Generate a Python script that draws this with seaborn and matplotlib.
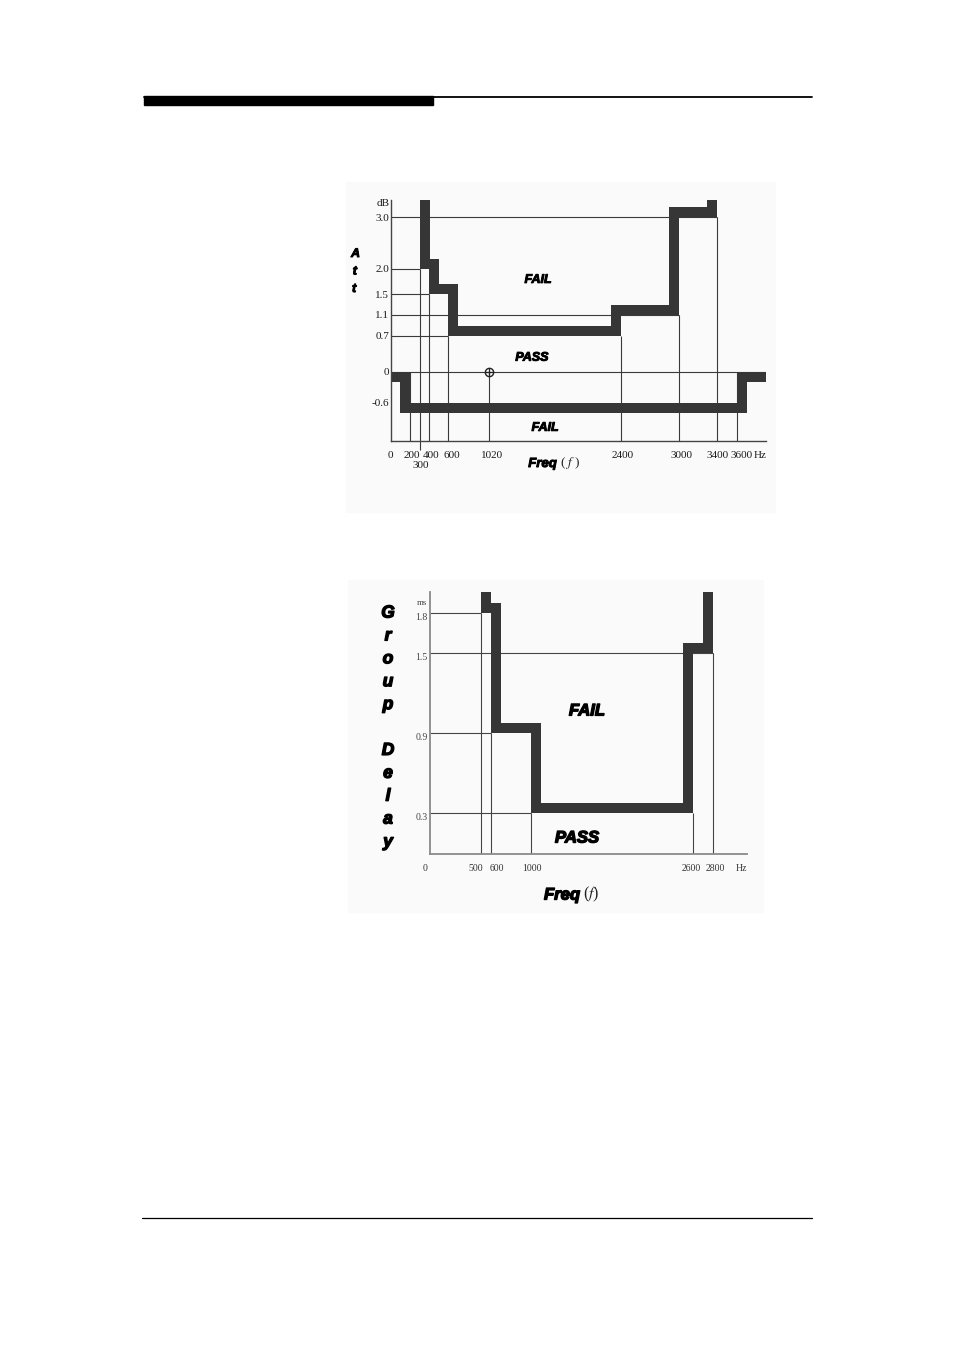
import matplotlib.pyplot as plt
import seaborn as sns
import matplotlib.patheffects as pe
from matplotlib.patches import Polygon, Rectangle
from matplotlib.lines import Line2D

sns.set_theme(style='white')
plt.rcParams['font.family'] = ['Liberation Serif', 'DejaVu Serif']
plt.rcParams['mathtext.fontset'] = 'stix'

# --- 감쇠 마스크 (dB) ---
att_up_freq = [300, 400, 600, 2400, 3000, 3400]
att_up_db = [2.0, 1.5, 0.7, 1.1, 3.0]
att_low_freq = [200, 3600]
att_low_db = [0, -0.6, 0]
att_guide_h = [3.0, 2.0, 1.5, 1.1, 0.7]
att_guide_h_end = [3400, 300, 400, 3000, 600]
att_guide_v = [200, 300, 400, 600, 1020, 2400, 3000, 3400, 3600]
att_guide_v_top = [0, 2.0, 1.5, 0.7, 0, 0.7, 1.1, 3.0, 0]
att_yticks = [3.0, 2.0, 1.5, 1.1, 0.7, 0, -0.6]
att_ylabels = ['3.0', '2.0', '1.5', '1.1', '0.7', '0', '-0.6']
att_xticks = [0, 200, 300, 400, 600, 1020, 2400, 3000, 3400, 3600]
att_ref = [1020, 0]

# --- 군지연 마스크 (ms) ---
gd_freq = [500, 600, 1000, 2600, 2800]
gd_ms = [1.8, 0.9, 0.3, 1.5]
gd_guide_h = [1.8, 1.5, 0.9, 0.3]
gd_guide_h_end = [500, 2800, 600, 1000]
gd_guide_v = [500, 600, 1000, 2600, 2800]
gd_guide_v_top = [1.8, 0.9, 0.3, 0.3, 1.5]
gd_yticks = [1.8, 1.5, 0.9, 0.3]
gd_ylabels = ['1.8', '1.5', '0.9', '0.3']
gd_xticks = [0, 500, 600, 1000, 2600, 2800]

W, H = 954, 1351
PT = 0.72  # px -> pt
MASK = '#363636'
GUIDE = '#3a3a3a'
MASK_W = 20 * PT
SKY = 50

fig = plt.figure(figsize=(W / 100, H / 100), dpi=100)
fig.patch.set_facecolor('white')


def box(x0, y0, x1, y1):
    return [x0 / W, 1 - y1 / H, (x1 - x0) / W, (y1 - y0) / H]


def ftext(x, y, s, **kw):
    fig.text(x / W, 1 - y / H, s, **kw)


def frect(x0, y0, x1, y1, color, z=-1):
    fig.add_artist(Rectangle((x0 / W, 1 - y1 / H), (x1 - x0) / W, (y1 - y0) / H,
                             transform=fig.transFigure, color=color, zorder=z))


def draw_mask(ax, breaks, levels, below=False):
    # 한계선을 굵게 그리고 FAIL 영역으로 잘라 안쪽 절반만 남김
    xs, ys = [-2000], [levels[0]]
    for b, l0, l1 in zip(breaks, levels[:-1], levels[1:]):
        xs += [b, b]
        ys += [l0, l1]
    xs.append(9000)
    ys.append(levels[-1])
    verts = list(zip(xs, ys))
    if below:
        verts += [(9000, -SKY), (-2000, -SKY)]
    clip = Polygon(verts, closed=True, transform=ax.transData, fc='none', ec='none')
    ax.add_patch(clip)
    n = len(ax.lines)
    sns.lineplot(x=xs, y=ys, sort=False, estimator=None, ax=ax, color=MASK,
                 lw=MASK_W, solid_joinstyle='miter', solid_capstyle='butt', zorder=3)
    for ln in ax.lines[n:]:
        ln.set_clip_path(clip)


def style_axes(ax, spine_color, spine_lw):
    ax.set_facecolor('none')
    ax.set_xticks([])
    ax.set_yticks([])
    for s in ['top', 'right']:
        ax.spines[s].set_visible(False)
    for s in ['left', 'bottom']:
        ax.spines[s].set_color(spine_color)
        ax.spines[s].set_linewidth(spine_lw)
        ax.spines[s].set_zorder(4)


def heavy(w):
    return dict(family=['Liberation Sans', 'DejaVu Sans'], weight='bold', style='italic',
                color='black', path_effects=[pe.withStroke(linewidth=w, foreground='black')])


# 페이지 장식
frect(144, 96, 433, 105, 'black', z=1)
fig.add_artist(Line2D([144 / W, 812 / W], [1 - 97 / H] * 2, transform=fig.transFigure,
                      color='black', lw=1.3))
fig.add_artist(Line2D([142 / W, 812 / W], [1 - 1218 / H] * 2, transform=fig.transFigure,
                      color='black', lw=0.9))
frect(346, 182, 775, 512, '#fafafa')
frect(348, 580, 763, 912, '#fafafa')

# ① 감쇠 특성
ax1 = fig.add_axes(box(390.7, 200, 766, 440.7))
style_axes(ax1, '#444444', 1.0)
for lv, end in zip(att_guide_h, att_guide_h_end):
    ax1.hlines(lv, 0, end, color=GUIDE, lw=0.8, zorder=2)
ax1.axhline(0, color=GUIDE, lw=0.8, zorder=2)
for f, top in zip(att_guide_v, att_guide_v_top):
    bottom = -1.53 if f == 300 else -1.34
    ax1.vlines(f, bottom, top, color=GUIDE, lw=0.8, zorder=2, clip_on=False)
draw_mask(ax1, att_up_freq, [SKY] + att_up_db + [SKY])
draw_mask(ax1, att_low_freq, att_low_db, below=True)
ax1.plot(att_ref[0], att_ref[1], marker='o', ms=6, mfc='none', mec='#222', mew=1.0, zorder=5)
ax1.plot(att_ref[0], att_ref[1], marker='+', ms=6, mec='#222', mew=0.9, zorder=5)
ax1.set_xlim(0, 3905)
ax1.set_ylim(-1.34, 3.33)

att_dx = {0: 0, 200: 2, 300: 1, 400: 2, 600: 3, 1020: 3, 2400: 1, 3000: 2, 3400: 0, 3600: 5}
for f in att_xticks:
    dy = -24.3 if f == 300 else -14.3
    ax1.annotate(str(f), xy=(f, 0), xycoords=('data', 'axes fraction'),
                 xytext=(att_dx[f] * PT, dy * PT), textcoords='offset points',
                 ha='center', va='center', fontsize=8, color='#1a1a1a')
ax1.annotate('Hz', xy=(1, 0), xycoords='axes fraction', xytext=(1 * PT, -14.3 * PT),
             textcoords='offset points', ha='right', va='center', fontsize=8, color='#1a1a1a')
for v, lbl in zip(att_yticks, att_ylabels):
    ax1.annotate(lbl, xy=(0, v), xycoords=('axes fraction', 'data'),
                 xytext=(-1.5 * PT, -1 * PT), textcoords='offset points',
                 ha='right', va='center', fontsize=8, color='#1a1a1a')
ax1.annotate('dB', xy=(0, 1), xycoords='axes fraction', xytext=(-1.5 * PT, -3.5 * PT),
             textcoords='offset points', ha='right', va='center', fontsize=8, color='#1a1a1a')

ax1.text(1533, 1.78, 'FAIL', ha='center', va='center', fontsize=9, **heavy(0.7))
ax1.text(1470, 0.27, 'PASS', ha='center', va='center', fontsize=9, **heavy(0.7))
ax1.text(1606, -1.09, 'FAIL', ha='center', va='center', fontsize=9, **heavy(0.7))
ftext(557, 464, 'Freq', ha='right', va='center', fontsize=9.5, **heavy(0.7))
ftext(560, 463, '( $f$ )', ha='left', va='center', fontsize=9.5, color='#222')
for i, ch in enumerate('Att'):
    ftext(355.5 - 0.7 * i, 254 + 17.5 * i, ch, ha='center', va='center', fontsize=9, **heavy(0.7))

# ② 군지연 특성
ax2 = fig.add_axes(box(430, 592, 746.7, 853.5))
style_axes(ax2, '#8a8a8a', 1.3)
for lv, end in zip(gd_guide_h, gd_guide_h_end):
    ax2.hlines(lv, 0, end, color='#444', lw=0.8, zorder=2)
for f, top in zip(gd_guide_v, gd_guide_v_top):
    ax2.vlines(f, 0, top, color='#444', lw=0.8, zorder=2)
draw_mask(ax2, gd_freq, [SKY] + gd_ms + [SKY])
ax2.set_xlim(0, 3130)
ax2.set_ylim(0, 1.957)

gd_dx = {0: -5, 500: -5, 600: 6, 1000: 1, 2600: -2, 2800: 2}
for f in gd_xticks:
    ax2.annotate(str(f), xy=(f, 0), xycoords=('data', 'axes fraction'),
                 xytext=(gd_dx[f] * PT, -14.8 * PT), textcoords='offset points',
                 ha='center', va='center', fontsize=7, color='#333')
ax2.annotate('Hz', xy=(1, 0), xycoords='axes fraction', xytext=(0, -14.8 * PT),
             textcoords='offset points', ha='right', va='center', fontsize=7, color='#333')
for v, lbl in zip(gd_yticks, gd_ylabels):
    ax2.annotate(lbl, xy=(0, v), xycoords=('axes fraction', 'data'),
                 xytext=(-2.5 * PT, -4.5 * PT), textcoords='offset points',
                 ha='right', va='center', fontsize=7, color='#444')
ax2.annotate('ms', xy=(0, 1), xycoords='axes fraction', xytext=(-2.5 * PT, -11 * PT),
             textcoords='offset points', ha='right', va='center', fontsize=6.5, color='#444')

ax2.text(1551, 1.067, 'FAIL', ha='center', va='center', fontsize=12, **heavy(1.0))
ax2.text(1453, 0.116, 'PASS', ha='center', va='center', fontsize=12, **heavy(1.0))
ftext(580, 895, 'Freq', ha='right', va='center', fontsize=12, **heavy(1.0))
ftext(583, 894, '($f$)', ha='left', va='center', fontsize=11.5, color='#222')
for i, ch in enumerate('Group Delay'):
    if ch != ' ':
        ftext(388, 613 + 22.9 * i, ch, ha='center', va='center', fontsize=12.5, **heavy(1.0))

fig.savefig('out.png', dpi=100, facecolor='white')
